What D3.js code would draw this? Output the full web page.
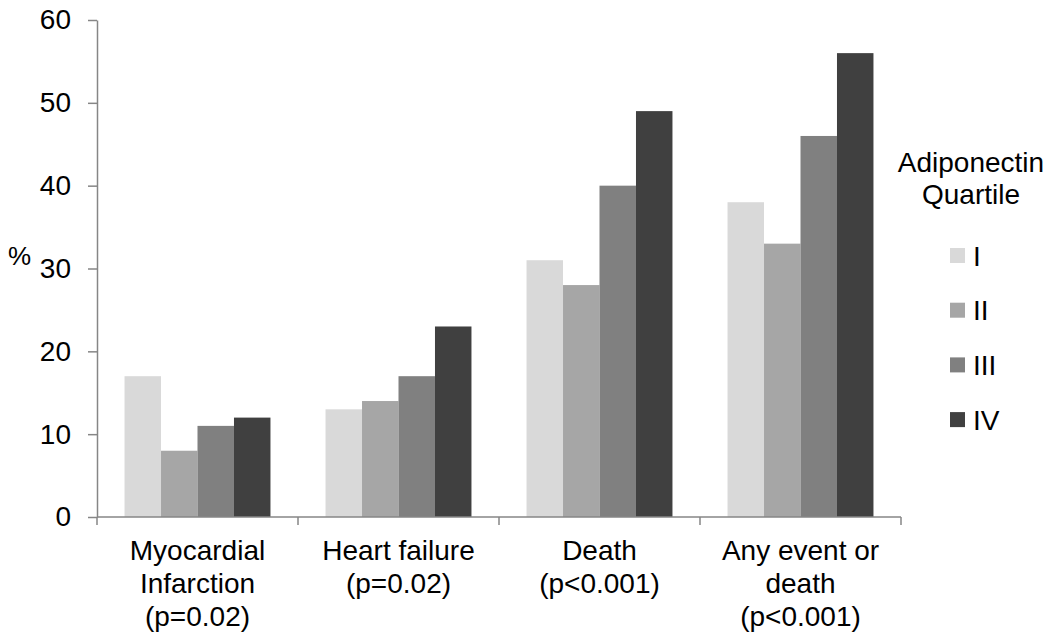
<!DOCTYPE html>
<html>
<head>
<meta charset="utf-8">
<script src="https://cdn.jsdelivr.net/npm/d3@7"></script>
<style>
  body { margin: 0; background: #fff; }
  svg { display: block; font-family: "Liberation Sans", Arial, sans-serif; }
</style>
</head>
<body>
<svg id="chart" width="1050" height="643"></svg>
<script>
const categories = [
  ["Myocardial", "Infarction", "(p=0.02)"],
  ["Heart failure", "(p=0.02)"],
  ["Death", "(p<0.001)"],
  ["Any event or", "death", "(p<0.001)"]
];
const seriesNames = ["I", "II", "III", "IV"];
const seriesColors = ["#d9d9d9", "#a6a6a6", "#808080", "#404040"];
const valuesI   = [17, 13, 31, 38];
const valuesII  = [8, 14, 28, 33];
const valuesIII = [11, 17, 40, 46];
const valuesIV  = [12, 23, 49, 56];
const yTicks = [0, 10, 20, 30, 40, 50, 60];
const legendTitle = ["Adiponectin", "Quartile"];
const yLabel = "%";

const series = [valuesI, valuesII, valuesIII, valuesIV];
const svg = d3.select("#chart");
const axisColor = "#868686";
const fs = 28;

const mLeft = 97, mRight = 901, mTop = 20, mBottom = 517;
const catIdx = categories.map((d, i) => i);

const x0 = d3.scaleBand().domain(catIdx).range([mLeft, mRight]).paddingInner(0).paddingOuter(0);
const bw = x0.bandwidth();
const x1 = d3.scaleBand().domain(seriesNames).range([bw * 0.137, bw * 0.863]).padding(0);
const y = d3.scaleLinear().domain([0, 60]).range([mBottom, mTop]);

// bars
const groups = svg.append("g").selectAll("g").data(catIdx).join("g")
  .attr("transform", d => `translate(${x0(d)},0)`);
groups.selectAll("rect")
  .data(ci => seriesNames.map((s, si) => ({ s, si, v: series[si][ci] })))
  .join("rect")
  .attr("x", d => x1(d.s))
  .attr("width", x1.bandwidth())
  .attr("y", d => y(d.v))
  .attr("height", d => y(0) - y(d.v))
  .attr("fill", d => seriesColors[d.si]);

// y axis
const yAxis = svg.append("g").attr("transform", `translate(${mLeft},0)`)
  .call(d3.axisLeft(y).tickValues(yTicks).tickSize(9).tickSizeOuter(0).tickPadding(17));
yAxis.select(".domain").attr("stroke", axisColor).attr("stroke-width", 1.5);
yAxis.selectAll(".tick line").attr("stroke", axisColor).attr("stroke-width", 1.5);
yAxis.selectAll(".tick text").attr("font-size", fs).attr("fill", "#000")
  .attr("font-family", "Liberation Sans, Arial, sans-serif");

// x axis
const xg = svg.append("g");
xg.append("line").attr("x1", mLeft).attr("x2", mRight).attr("y1", mBottom).attr("y2", mBottom)
  .attr("stroke", axisColor).attr("stroke-width", 1.5);
const bounds = catIdx.map(i => x0(i)).concat([x0(catIdx[catIdx.length - 1]) + bw]);
xg.selectAll("line.tk").data(bounds).join("line").attr("class", "tk")
  .attr("x1", d => d).attr("x2", d => d).attr("y1", mBottom).attr("y2", mBottom + 8)
  .attr("stroke", axisColor).attr("stroke-width", 1.5);
const labs = xg.selectAll("text.cat").data(catIdx).join("text").attr("class", "cat")
  .attr("text-anchor", "middle").attr("font-size", fs).attr("fill", "#000")
  .attr("x", d => x0(d) + bw / 2).attr("y", mBottom + 43);
labs.selectAll("tspan").data(d => categories[d].map((t, k) => ({ t, k, d }))).join("tspan")
  .attr("x", d => x0(d.d) + bw / 2).attr("dy", d => d.k === 0 ? 0 : 33).text(d => d.t);

// y label
svg.append("text").attr("x", 8).attr("y", 265).attr("font-size", 26).attr("fill", "#000").text(yLabel);

// legend
const lg = svg.append("g");
lg.selectAll("text.lt").data(legendTitle).join("text").attr("class", "lt")
  .attr("x", 971).attr("y", (d, i) => 172 + i * 32).attr("text-anchor", "middle")
  .attr("font-size", fs).attr("fill", "#000").text(d => d);
const items = lg.selectAll("g.item").data(seriesNames).join("g").attr("class", "item")
  .attr("transform", (d, i) => `translate(950,${255.5 + i * 54.7})`);
items.append("rect").attr("x", 0).attr("y", -7.5).attr("width", 15).attr("height", 15)
  .attr("fill", (d, i) => seriesColors[i]);
items.append("text").attr("x", 23).attr("y", 10).attr("font-size", fs).attr("fill", "#000").text(d => d);
</script>
</body>
</html>
